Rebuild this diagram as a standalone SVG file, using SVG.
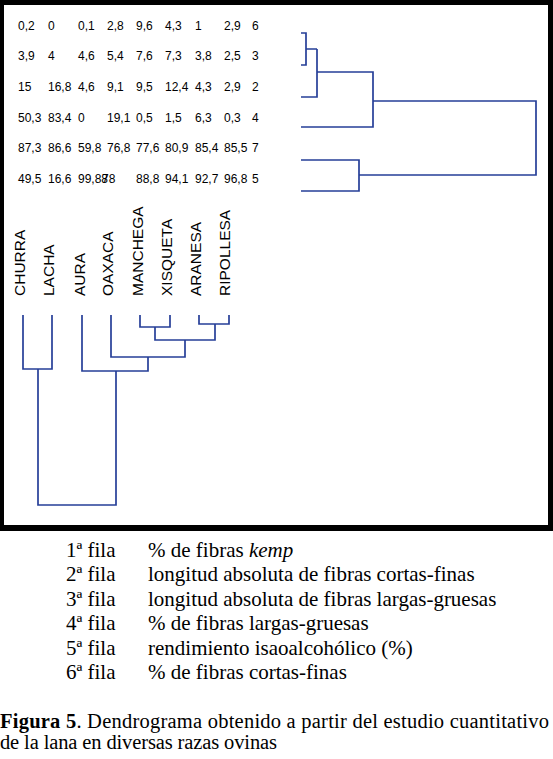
<svg xmlns="http://www.w3.org/2000/svg" width="553" height="759" viewBox="0 0 553 759">
<style>
.num{font-family:"Liberation Sans",Arial,sans-serif;font-size:12px;fill:#000}
.lab{font-family:"Liberation Sans",Arial,sans-serif;font-size:15.5px;fill:#000}
.ser{font-family:"Liberation Serif","Times New Roman",serif;font-size:21px;fill:#000}
.cap{font-family:"Liberation Serif","Times New Roman",serif;font-size:20.5px;fill:#000}
.ln{fill:none;stroke:#263f98;stroke-width:1.7}
</style>
<rect x="0" y="0" width="553" height="531" fill="#000"/>
<rect x="4" y="5" width="544" height="520" fill="#fff"/>
<g id="table">
<text class="num" y="29.5"><tspan x="18">0,2</tspan><tspan x="48">0</tspan><tspan x="78">0,1</tspan><tspan x="107">2,8</tspan><tspan x="136">9,6</tspan><tspan x="165">4,3</tspan><tspan x="195">1</tspan><tspan x="224">2,9</tspan><tspan x="252">6</tspan></text>
<text class="num" y="60.2"><tspan x="18">3,9</tspan><tspan x="48">4</tspan><tspan x="78">4,6</tspan><tspan x="107">5,4</tspan><tspan x="136">7,6</tspan><tspan x="165">7,3</tspan><tspan x="195">3,8</tspan><tspan x="224">2,5</tspan><tspan x="252">3</tspan></text>
<text class="num" y="90.9"><tspan x="18">15</tspan><tspan x="48">16,8</tspan><tspan x="78">4,6</tspan><tspan x="107">9,1</tspan><tspan x="136">9,5</tspan><tspan x="165">12,4</tspan><tspan x="195">4,3</tspan><tspan x="224">2,9</tspan><tspan x="252">2</tspan></text>
<text class="num" y="121.6"><tspan x="18">50,3</tspan><tspan x="48">83,4</tspan><tspan x="78">0</tspan><tspan x="107">19,1</tspan><tspan x="136">0,5</tspan><tspan x="165">1,5</tspan><tspan x="195">6,3</tspan><tspan x="224">0,3</tspan><tspan x="252">4</tspan></text>
<text class="num" y="152.3"><tspan x="18">87,3</tspan><tspan x="48">86,6</tspan><tspan x="78">59,8</tspan><tspan x="107">76,8</tspan><tspan x="136">77,6</tspan><tspan x="165">80,9</tspan><tspan x="195">85,4</tspan><tspan x="224">85,5</tspan><tspan x="252">7</tspan></text>
<text class="num" y="183"><tspan x="18">49,5</tspan><tspan x="48">16,6</tspan><tspan x="78">99,88</tspan><tspan x="102">78</tspan><tspan x="136">88,8</tspan><tspan x="165">94,1</tspan><tspan x="195">92,7</tspan><tspan x="224">96,8</tspan><tspan x="252">5</tspan></text>
</g>
<g id="labels">
<text id="churra" class="lab" transform="translate(25,296) rotate(-90)">CHURRA</text>
<text id="lacha" class="lab" transform="translate(54,296) rotate(-90)">LACHA</text>
<text id="aura" class="lab" transform="translate(85,296) rotate(-90)">AURA</text>
<text id="oaxaca" class="lab" transform="translate(113,296) rotate(-90)">OAXACA</text>
<text id="manchega" class="lab" transform="translate(143,296) rotate(-90)">MANCHEGA</text>
<text id="xisqueta" class="lab" transform="translate(172,296) rotate(-90)">XISQUETA</text>
<text id="aranesa" class="lab" transform="translate(201,296) rotate(-90)">ARANESA</text>
<text id="ripollesa" class="lab" transform="translate(230,296) rotate(-90)">RIPOLLESA</text>
</g>
<g id="connectors">
<path class="ln" d="M301,33 H306 V65 H301 M306,49 H317 M301,97 H317 V49 M317,72 H373 V127 H301 M373,101 H536 V175 H359 M301,160 H359 V191 H301"/>
<path class="ln" d="M23,315 V369 H52 V315 M82,315 V371 H148 V357 M111,315 V357 H185 V340 M140,315 V327 H170 V315 M199,315 V324 H229 V315 M155,327 V340 H215 V324 M38,369 V505 H116 V371"/>
</g>
<g id="legend">
<text class="ser" x="66" y="556.5">1ª fila</text><text class="ser" x="148" y="556.5">% de fibras <tspan font-style="italic">kemp</tspan></text>
<text class="ser" x="66" y="581">2ª fila</text><text class="ser" x="148" y="581">longitud absoluta de fibras cortas-finas</text>
<text class="ser" x="66" y="605.5">3ª fila</text><text class="ser" x="148" y="605.5">longitud absoluta de fibras largas-gruesas</text>
<text class="ser" x="66" y="630">4ª fila</text><text class="ser" x="148" y="630">% de fibras largas-gruesas</text>
<text class="ser" x="66" y="654.5">5ª fila</text><text class="ser" x="148" y="654.5">rendimiento isaoalcohólico (%)</text>
<text class="ser" x="66" y="679">6ª fila</text><text class="ser" x="148" y="679">% de fibras cortas-finas</text>
</g>
<g id="caption">
<text class="cap" x="0" y="727.5" textLength="549" lengthAdjust="spacing"><tspan font-weight="bold">Figura 5</tspan>. Dendrograma obtenido a partir del estudio cuantitativo</text>
<text class="cap" x="0" y="748.5" textLength="277" lengthAdjust="spacing">de la lana en diversas razas ovinas</text>
</g>
</svg>
